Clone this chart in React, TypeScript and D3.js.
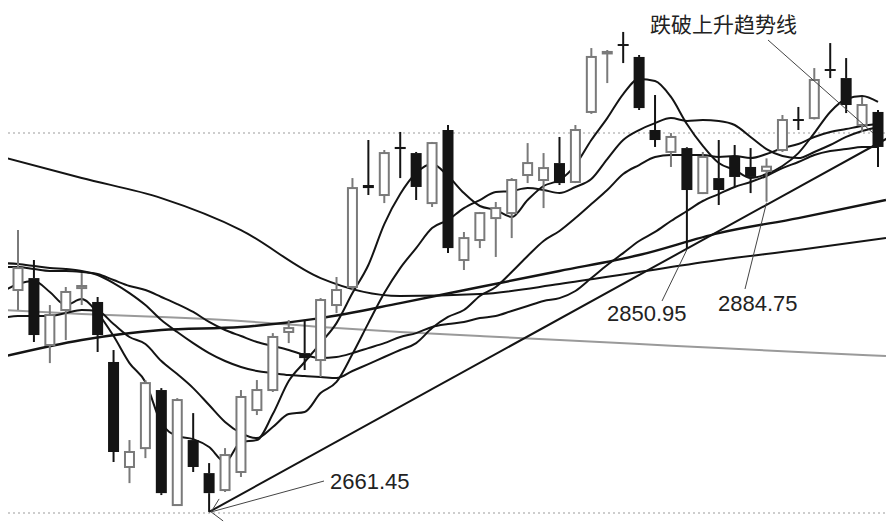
import React from 'react';
import * as d3 from 'd3';

const W = 886;
const H = 532;

// candle data (index 0..54)
const opens = [2821.2, 2829.8, 2781.6, 2806.8, 2822.6, 2812.6, 2769.4, 2693.8, 2707.4, 2749.2, 2666.4, 2713.2, 2689.4, 2677.2, 2690.2, 2734.8, 2749.2, 2791.0, 2775.8, 2770.8, 2810.4, 2823.4, 2896.8, 2889.6, 2924.2, 2919.8, 2883.8, 2936.4, 2842.8, 2857.2, 2873.0, 2876.6, 2904.0, 2900.4, 2912.6, 2899.0, 2949.4, 2991.8, 2998.3, 2989.0, 2936.4, 2920.6, 2923.4, 2891.0, 2901.8, 2917.0, 2909.8, 2907.0, 2922.0, 2944.3, 2945.0, 2980.3, 2973.8, 2940.0, 2949.4];
const highs = [2864.4, 2842.8, 2810.4, 2823.4, 2833.4, 2816.2, 2778.0, 2713.2, 2756.4, 2750.6, 2743.4, 2732.6, 2696.6, 2707.4, 2749.2, 2756.4, 2790.2, 2799.6, 2799.6, 2815.4, 2830.6, 2901.8, 2929.2, 2922.0, 2935.0, 2920.6, 2927.8, 2940.0, 2863.0, 2877.4, 2884.6, 2901.8, 2927.0, 2919.8, 2931.4, 2940.0, 2995.4, 2994.0, 3007.0, 2990.4, 2961.6, 2934.2, 2924.0, 2920.6, 2929.2, 2925.6, 2923.4, 2916.0, 2947.2, 2953.0, 2981.0, 2999.0, 2988.2, 2960.2, 2950.8];
const lows = [2806.8, 2783.8, 2768.6, 2785.2, 2810.4, 2776.6, 2697.4, 2682.2, 2700.2, 2673.6, 2665.7, 2690.2, 2661.45, 2675.8, 2686.6, 2731.2, 2747.8, 2783.0, 2763.6, 2758.6, 2804.6, 2821.0, 2889.6, 2883.8, 2901.8, 2886.0, 2881.0, 2847.8, 2835.6, 2851.4, 2845.0, 2858.6, 2898.2, 2880.2, 2896.8, 2898.2, 2948.0, 2970.2, 2984.6, 2950.8, 2924.2, 2909.8, 2850.95, 2890.3, 2882.4, 2895.4, 2891.0, 2884.75, 2920.6, 2936.4, 2944.0, 2973.8, 2948.6, 2935.0, 2909.8];
const closes = [2837.0, 2788.8, 2803.2, 2819.8, 2824.1, 2788.8, 2704.6, 2704.6, 2754.2, 2675.0, 2742.0, 2693.8, 2675.0, 2702.4, 2744.2, 2749.2, 2787.4, 2793.8, 2772.2, 2814.0, 2821.2, 2894.6, 2894.6, 2919.8, 2922.7, 2895.4, 2927.0, 2851.4, 2858.6, 2876.6, 2880.2, 2900.4, 2912.6, 2909.0, 2898.2, 2936.4, 2989.0, 2992.6, 2996.9, 2952.2, 2929.2, 2931.4, 2893.2, 2917.0, 2893.2, 2902.6, 2902.6, 2910.0, 2943.6, 2942.9, 2972.4, 2978.9, 2954.4, 2954.4, 2924.2];

// moving averages, values at index -1..54
const maStart = -1;
const ma5 = [2819.8, 2825.5, 2827.7, 2819.8, 2810.4, 2814.7, 2804.6, 2788.1, 2768.6, 2755.0, 2725.4, 2716.1, 2713.9, 2708.2, 2697.4, 2711.8, 2713.2, 2731.9, 2755.7, 2769.4, 2783.0, 2797.4, 2819.0, 2839.2, 2868.7, 2890.3, 2905.4, 2911.9, 2903.3, 2891.0, 2881.7, 2878.8, 2873.8, 2886.0, 2896.1, 2900.4, 2911.2, 2929.2, 2945.0, 2962.3, 2973.1, 2971.7, 2960.2, 2940.7, 2924.9, 2912.6, 2907.6, 2901.8, 2904.7, 2910.5, 2919.8, 2934.2, 2949.4, 2958.7, 2960.9, 2956.6];
const ma10 = [2801.0, 2802.5, 2802.5, 2802.5, 2804.6, 2806.8, 2806.1, 2796.7, 2787.4, 2782.3, 2770.1, 2760.7, 2750.6, 2738.4, 2726.2, 2718.2, 2714.6, 2722.6, 2731.9, 2733.4, 2747.0, 2755.0, 2775.1, 2797.4, 2819.0, 2837.0, 2851.4, 2865.8, 2871.6, 2880.2, 2886.0, 2891.8, 2892.5, 2894.6, 2893.2, 2891.0, 2895.4, 2901.1, 2915.5, 2929.2, 2936.4, 2941.4, 2945.0, 2942.9, 2943.6, 2942.9, 2940.0, 2931.4, 2922.7, 2917.7, 2916.2, 2920.6, 2925.6, 2931.4, 2935.7, 2938.6];
const ma20 = [2840.6, 2839.9, 2838.5, 2837.0, 2836.3, 2834.9, 2832.0, 2826.2, 2819.0, 2810.4, 2799.6, 2791.0, 2783.0, 2775.8, 2770.1, 2765.8, 2762.9, 2761.4, 2760.0, 2759.3, 2758.6, 2757.8, 2762.9, 2767.9, 2773.0, 2778.0, 2783.0, 2793.8, 2801.8, 2806.8, 2816.9, 2823.4, 2834.2, 2845.7, 2856.5, 2863.7, 2873.0, 2883.1, 2893.2, 2904.7, 2911.2, 2917.0, 2918.4, 2918.4, 2918.4, 2917.0, 2917.7, 2916.2, 2919.1, 2923.4, 2926.3, 2931.4, 2935.0, 2937.1, 2939.3, 2940.7];
const ma30 = [2837.8, 2837.8, 2836.3, 2834.9, 2834.9, 2834.2, 2832.7, 2828.4, 2824.1, 2821.2, 2816.2, 2811.1, 2805.4, 2798.2, 2792.4, 2788.1, 2783.8, 2780.9, 2778.0, 2774.4, 2772.2, 2773.0, 2775.8, 2779.4, 2783.0, 2787.4, 2790.2, 2794.6, 2796.7, 2798.2, 2801.0, 2802.5, 2806.1, 2809.7, 2813.3, 2815.4, 2820.5, 2829.8, 2839.2, 2847.8, 2856.5, 2863.0, 2870.9, 2878.1, 2885.3, 2890.3, 2895.4, 2899.0, 2903.3, 2909.0, 2913.4, 2918.4, 2921.3, 2922.7, 2924.2, 2924.2];

// long-term averages, sampled at these indices
const longIdx = [-1, 4, 9, 14, 19, 24, 29, 34, 39, 44, 49, 54.5];
const ma60 = [2773.0, 2785.2, 2792.4, 2794.6, 2801.0, 2811.8, 2823.4, 2834.9, 2846.4, 2862.2, 2873.0, 2886.0];
const ma120 = [2917.0, 2901.8, 2887.4, 2864.4, 2829.8, 2816.9, 2818.3, 2825.5, 2834.2, 2842.8, 2850.0, 2858.6];
const ma250 = [2806.8, 2803.9, 2801.8, 2798.9, 2794.6, 2791.0, 2788.1, 2785.2, 2782.3, 2779.4, 2776.6, 2773.7];

// rising trend line anchors (index, price)
const trendIdx = [12, 42];
const trendVal = [2661.45, 2850.95];

const gridPrices = [2934.2, 2660.6];

const annoLabels = ['2661.45', '2850.95', '2884.75'];
const annoIdx = [12, 42, 47];
const titleLabel = '跌破上升趋势线';

export default function App() {
  const x = d3.scaleLinear().domain([0, 54]).range([18, 878]);
  const y = d3.scaleLinear().domain([2647, 3030]).range([532, 0]);
  const bw = 11;

  const line = d3
    .line<[number, number]>()
    .x((d) => x(d[0]))
    .y((d) => y(d[1]))
    .curve(d3.curveMonotoneX);

  const maPath = (arr: number[]) =>
    line(arr.map((v, k) => [k + maStart, v] as [number, number])) || '';
  const longPath = (arr: number[]) =>
    line(arr.map((v, k) => [longIdx[k], v] as [number, number])) || '';

  const slope = (trendVal[1] - trendVal[0]) / (trendIdx[1] - trendIdx[0]);
  const tEnd = 54.6;
  const trendEndVal = trendVal[0] + slope * (tEnd - trendIdx[0]);

  const gray = '#7a7a7a';
  const dark = '#141414';

  const pt = (i: number, v: number) => [x(i), y(v)];
  const low0 = pt(annoIdx[0], lows[annoIdx[0]]);
  const low1 = pt(annoIdx[1], lows[annoIdx[1]]);
  const low2 = pt(annoIdx[2], lows[annoIdx[2]]);

  return (
    <svg
      width={W}
      height={H}
      style={{ position: 'absolute', left: 0, top: 0, background: '#fff' }}
    >
      <defs>
        <clipPath id="plot">
          <rect x={8} y={0} width={878} height={532} />
        </clipPath>
      </defs>
      <rect x={0} y={0} width={W} height={H} fill="#fff" />
      {gridPrices.map((g, k) => (
        <line
          key={'g' + k}
          x1={8}
          x2={886}
          y1={y(g)}
          y2={y(g)}
          stroke="#bdbdbd"
          strokeWidth={1.5}
          strokeDasharray="2,3"
        />
      ))}
      <g clipPath="url(#plot)">
        <path d={longPath(ma250)} fill="none" stroke="#9a9a9a" strokeWidth={2} />
        <path d={longPath(ma120)} fill="none" stroke={dark} strokeWidth={2} />
        <path d={longPath(ma60)} fill="none" stroke={dark} strokeWidth={2.4} />
        {[ma30, ma20, ma10, ma5].map((m, k) => (
          <path key={'ma' + k} d={maPath(m)} fill="none" stroke={dark} strokeWidth={2} />
        ))}
        <line
          x1={x(trendIdx[0])}
          y1={y(trendVal[0])}
          x2={x(tEnd)}
          y2={y(trendEndVal)}
          stroke={dark}
          strokeWidth={2}
        />
        {closes.map((c, i) => {
          const o = opens[i];
          const up = c >= o;
          const cx = x(i);
          const top = y(Math.max(o, c));
          const bot = y(Math.min(o, c));
          const h = Math.max(bot - top, 1.5);
          const col = up ? gray : dark;
          return (
            <g key={'c' + i}>
              <line x1={cx} x2={cx} y1={y(highs[i])} y2={top} stroke={col} strokeWidth={2} />
              <line x1={cx} x2={cx} y1={top + h} y2={y(lows[i])} stroke={col} strokeWidth={2} />
              {up ? (
                <rect x={cx - bw / 2 + 1} y={top} width={bw - 2} height={h} fill="#fff" stroke={gray} strokeWidth={2} />
              ) : (
                <rect x={cx - bw / 2} y={top} width={bw} height={h} fill={dark} />
              )}
            </g>
          );
        })}
      </g>
      {/* annotations */}
      <g stroke="#444" strokeWidth={1} fill="none">
        <line x1={324} y1={481} x2={low0[0] + 2} y2={low0[1]} />
        <line x1={low0[0] + 2} y1={low0[1]} x2={low0[0] + 10} y2={low0[1] - 13} />
        <line x1={low0[0] + 2} y1={low0[1]} x2={low0[0] + 14} y2={low0[1] + 9} />
        <line x1={662} y1={301} x2={low1[0]} y2={low1[1] + 1} />
        <line x1={745} y1={289} x2={low2[0]} y2={low2[1] + 1} />
        <line x1={768} y1={40} x2={873} y2={133} />
      </g>
      <g fontFamily="'Liberation Sans', Arial, sans-serif" fontSize={22} fill="#222">
        <text x={330} y={489}>{annoLabels[0]}</text>
        <text x={607} y={321}>{annoLabels[1]}</text>
        <text x={718} y={311}>{annoLabels[2]}</text>
      </g>
      <text x={650} y={32} fontFamily="'Noto Sans CJK SC', sans-serif" fontSize={21} fill="#222">
        {titleLabel}
      </text>
    </svg>
  );
}
